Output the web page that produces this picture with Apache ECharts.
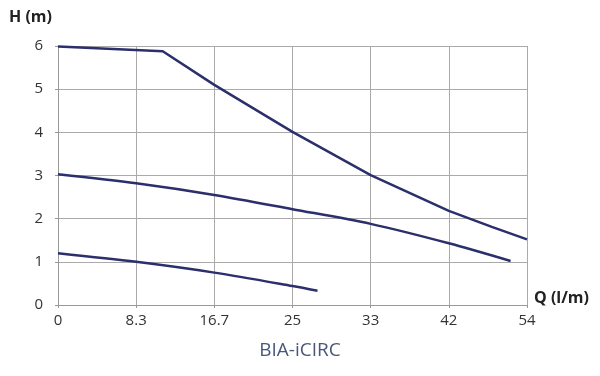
<!DOCTYPE html>
<html><head><meta charset="utf-8">
<script src="https://cdn.jsdelivr.net/npm/echarts@6/dist/echarts.min.js"></script>
<style>html,body{margin:0;padding:0;background:#fff}#c{width:600px;height:376px}</style>
</head><body><div id="c"></div>
<script>
// x positions are in grid-step units (the axis ticks are evenly spaced)
const xTickLabels = ['0','8.3','16.7','25','33','42','54'];
const yTickLabels = ['0','1','2','3','4','5','6'];
const curveHighX = [0, 1.34, 2, 3, 4, 5, 5.55, 6];
const curveHighY = [5.99, 5.88, 5.10, 4.01, 3.01, 2.18, 1.81, 1.52];
const curveMidX = [0, 1, 2, 3, 4, 5, 5.79];
const curveMidY = [3.03, 2.82, 2.55, 2.22, 1.88, 1.43, 1.02];
const curveLowX = [0, 1, 2, 3, 3.32];
const curveLowY = [1.20, 1.00, 0.75, 0.44, 0.33];
const title = 'BIA-iCIRC';

const pairs = (xs, ys) => xs.map((x, i) => [x, ys[i]]);
const lineColor = '#2b2f6b';
const font = '"Open Sans", sans-serif';
const chart = echarts.init(document.getElementById('c'));
const lineSeries = (data, smooth) => ({
  type: 'line', data, smooth, showSymbol: false, symbol: 'none',
  lineStyle: { color: lineColor, width: 2.5 }, z: 5, animation: false
});
chart.setOption({
  animation: false,
  grid: { left: 58, right: 73, top: 46, bottom: 71 },
  xAxis: {
    type: 'value', min: 0, max: 6, interval: 1,
    axisLine: { show: true, lineStyle: { color: '#999', width: 1 } },
    axisTick: { show: true, length: 3, lineStyle: { color: '#999' } },
    splitLine: { show: true, lineStyle: { color: '#aaa', width: 1 } },
    axisLabel: { color: '#333', fontSize: 15, fontFamily: font, margin: 8,
      formatter: v => xTickLabels[Math.round(v)] }
  },
  yAxis: {
    type: 'value', min: 0, max: 6, interval: 1,
    axisLine: { show: true, lineStyle: { color: '#999', width: 1 } },
    axisTick: { show: true, length: 3, lineStyle: { color: '#999' } },
    splitLine: { show: true, lineStyle: { color: '#aaa', width: 1 } },
    axisLabel: { color: '#333', fontSize: 15, fontFamily: font, margin: 15,
      formatter: v => yTickLabels[Math.round(v)] }
  },
  graphic: [
    { type: 'text', left: 9, top: 9, style: { text: 'H (m)', fill: '#222', font: 'bold 16px ' + font } },
    { type: 'text', left: 534, top: 290, style: { text: 'Q (l/m)', fill: '#222', font: 'bold 16px ' + font } },
    { type: 'text', left: 'center', top: 341, style: { text: title, fill: '#4a5878', font: '19px ' + font } }
  ],
  series: [
    lineSeries(pairs(curveHighX, curveHighY), false),
    lineSeries(pairs(curveMidX, curveMidY), 0.3),
    lineSeries(pairs(curveLowX, curveLowY), 0.3)
  ]
});
</script></body></html>
